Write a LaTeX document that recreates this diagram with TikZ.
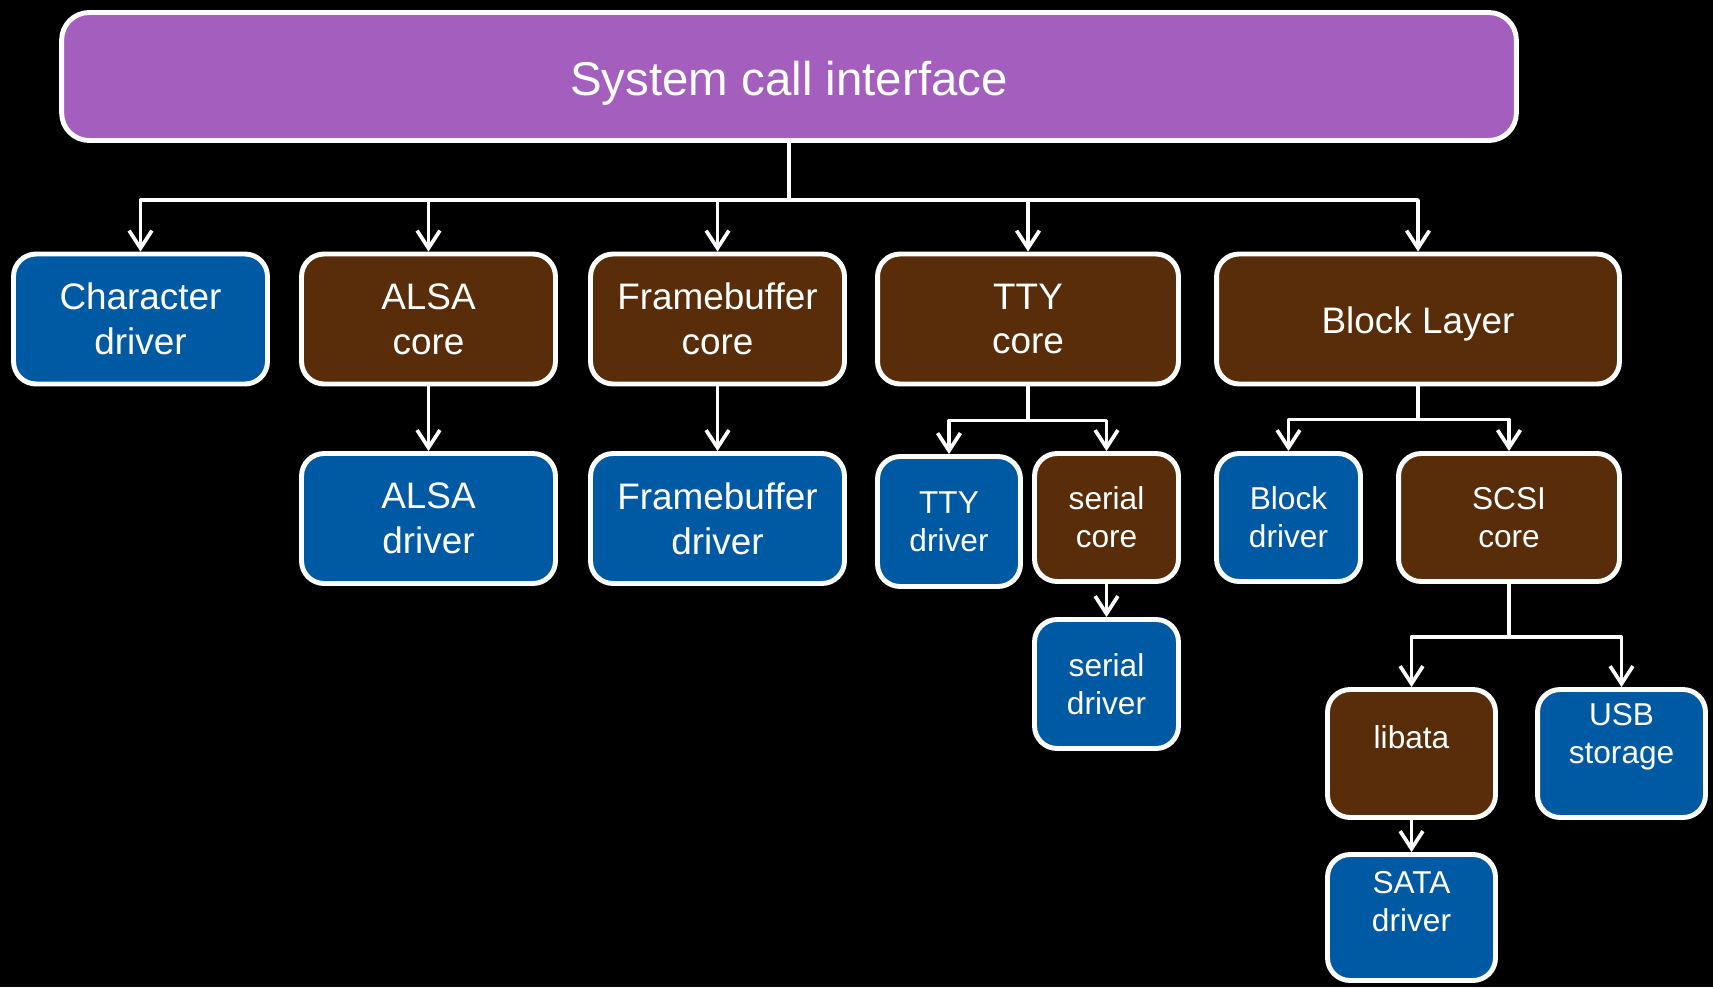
\documentclass[tikz,border=0pt]{standalone}
\usepackage{fontspec}
\setmainfont{Liberation Sans}
\usetikzlibrary{arrows.meta}

\begin{document}
\begin{tikzpicture}
		[x=0.02cm,y=-0.02cm,line join=round,
		%Styles
		>={Straight Barb[length=10pt,width=13pt,line width=2.1pt]},
		box/.style={draw=white,line width=2.8pt,rounded corners=0.45cm,text=white,align=center,inner sep=0pt,minimum height=2.6cm},
		core box/.style={box,fill=corecolor},
		driver box/.style={box,fill=drivercolor},
		big text/.style={font=\fontsize{21}{25.5}\selectfont},
		small text/.style={font=\fontsize{18}{21.5}\selectfont},
		lifted/.style={text depth=#1},
		link/.style={->,white,line width=2.1pt}
		]
		
		%Colors
		\definecolor{syscolor}{RGB}{164,94,189}
		\definecolor{drivercolor}{RGB}{0,90,163}
		\definecolor{corecolor}{RGB}{90,45,10}
		
		%The graphic
		\fill[black] (0,0) rectangle (1713,987);
		
		\node[box,fill=syscolor,minimum width=29.1cm,minimum height=2.56cm,rounded corners=0.55cm,font=\fontsize{27}{32}\selectfont,text height=27pt] (sys) at (789,76.5) {System call interface};
		
		\node[driver box,big text,minimum width=5.08cm] (chr) at (140.5,319) {Character\\driver};
		\node[core box,big text,minimum width=5.08cm] (alsacore) at (428.5,319) {ALSA\\core};
		\node[core box,big text,minimum width=5.08cm] (fbcore) at (717.5,319) {Framebuffer\\core};
		\node[core box,big text,minimum width=6.02cm] (ttycore) at (1028,319) {TTY\\core};
		\node[core box,big text,minimum width=8.06cm,text height=20.5pt] (blocklayer) at (1418,319) {Block Layer};
		
		\node[driver box,big text,minimum width=5.08cm,minimum height=2.6cm] (alsadrv) at (428.5,518.5) {ALSA\\driver};
		\node[driver box,big text,minimum width=5.08cm,minimum height=2.6cm] (fbdrv) at (717.5,518.5) {Framebuffer\\driver};
		\node[driver box,small text,minimum width=2.86cm,minimum height=2.6cm] (ttydrv) at (949,521.5) {TTY\\driver};
		\node[core box,small text,minimum width=2.88cm,minimum height=2.56cm] (sercore) at (1106.5,517.5) {serial\\core};
		\node[driver box,small text,minimum width=2.88cm,minimum height=2.56cm] (blkdrv) at (1288.5,517.5) {Block\\driver};
		\node[core box,small text,minimum width=4.42cm,minimum height=2.56cm] (scsicore) at (1509,517.5) {SCSI\\core};
		
		\node[driver box,small text,minimum width=2.88cm,minimum height=2.58cm] (serdrv) at (1106.5,684) {serial\\driver};
		\node[core box,small text,minimum width=3.36cm,minimum height=2.56cm,lifted=18.6pt] (libata) at (1411.5,753.5) {libata};
		\node[driver box,small text,minimum width=3.36cm,minimum height=2.56cm,lifted=22.4pt] (usb) at (1621.5,753.5) {USB\\storage};
		\node[driver box,small text,minimum width=3.36cm,minimum height=2.52cm,lifted=18.6pt] (sata) at (1411.5,917.5) {SATA\\driver};
		
		%System call fan-out
		\draw[link] (sys.south) -- ++(0,57) -| (chr.north);
		\draw[link] (sys.south) -- ++(0,57) -| (alsacore.north);
		\draw[link] (sys.south) -- ++(0,57) -| (fbcore.north);
		\draw[link] (sys.south) -- ++(0,57) -| (ttycore.north);
		\draw[link] (sys.south) -- ++(0,57) -| (blocklayer.north);
		
		\draw[link] (alsacore) -- (alsadrv);
		\draw[link] (fbcore) -- (fbdrv);
		
		\draw[link] (ttycore.south) -- ++(0,34) -| (ttydrv.north);
		\draw[link] (ttycore.south) -- ++(0,34) -| (sercore.north);
		\draw[link] (sercore) -- (serdrv);
		
		\draw[link] (blocklayer.south) -- ++(0,33) -| (blkdrv.north);
		\draw[link] (blocklayer.south) -- ++(0,33) -| (scsicore.north);
		
		\draw[link] (scsicore.south) -- ++(0,53) -| (libata.north);
		\draw[link] (scsicore.south) -- ++(0,53) -| (usb.north);
		\draw[link] (libata) -- (sata);
	\end{tikzpicture}
\end{document}
